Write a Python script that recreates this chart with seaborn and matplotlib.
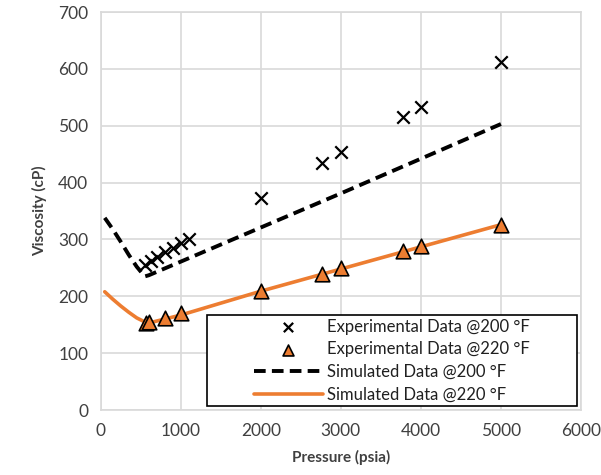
import matplotlib
matplotlib.use('Agg')
import matplotlib.pyplot as plt
import seaborn as sns
import pandas as pd
from matplotlib.patches import Rectangle

# experimental data
exp200_p = [550, 625, 700, 800, 900, 1000, 1100, 2000, 2760, 3000, 3780, 4000, 5000]
exp200_v = [255, 262, 270, 278, 285, 293, 300, 373, 434, 453, 515, 533, 612]
exp220_p = [570, 600, 800, 1000, 2000, 2760, 3000, 3780, 4000, 5000]
exp220_v = [153, 155, 162, 170, 210, 240, 249, 280, 288, 325]

# simulated curves
sim200_p = [50, 150, 250, 350, 450, 550, 600, 1000, 2000, 3000, 4000, 5000]
sim200_v = [338, 318, 296, 273, 252, 235, 237, 261, 321, 381, 442, 503]
sim220_p = [50, 150, 250, 350, 450, 550, 600, 1000, 2000, 3000, 4000, 5000]
sim220_v = [208, 195, 183, 172, 162, 155, 153, 167, 209, 248, 287, 326]

sns.set_style("whitegrid")
plt.rcParams['font.family'] = ['Lato', 'DejaVu Sans']

orange = '#ED7D31'
grid = '#D9D9D9'
txt = '#404040'

fig = plt.figure(figsize=(6.01, 4.75), dpi=100)
ax = fig.add_axes([0.1676, 0.1368, 0.7991, 0.8379])

sns.lineplot(x=sim200_p, y=sim200_v, ax=ax, color='black', lw=2.8,
             linestyle=(0, (3, 1.6)), label='Simulated Data @200 °F', sort=False)
sns.lineplot(x=sim220_p, y=sim220_v, ax=ax, color=orange, lw=2.6,
             label='Simulated Data @220 °F', sort=False)
sns.scatterplot(x=exp200_p, y=exp200_v, ax=ax, marker='x', s=80, color='black',
                linewidth=1.6, label='Experimental Data @200 °F', zorder=5)
sns.scatterplot(x=exp220_p, y=exp220_v, ax=ax, marker='^', s=110, color=orange,
                edgecolor='black', linewidth=1.2, label='Experimental Data @220 °F', zorder=6)

ax.set_xlim(0, 6000)
ax.set_ylim(0, 700)
ax.set_xticks(range(0, 6001, 1000))
ax.set_yticks(range(0, 701, 100))
ax.grid(True, color=grid, lw=1.2)
for s in ax.spines.values():
    s.set_color(grid)
    s.set_linewidth(1.2)
ax.tick_params(length=0, labelsize=12.5, labelcolor=txt, pad=9)
ax.set_xlabel('Pressure (psia)', fontsize=11, fontweight='bold', color=txt, labelpad=8)
ax.set_ylabel('Viscosity (cP)', fontsize=11, fontweight='bold', color=txt, labelpad=8)

h, l = ax.get_legend_handles_labels()
order = [2, 3, 0, 1]
leg = ax.legend([h[i] for i in order], [l[i] for i in order], loc='center',
                bbox_to_anchor=(0.6062, 0.1243), frameon=False, fontsize=12,
                handlelength=4.1, handletextpad=0.25, labelspacing=0.4,
                borderaxespad=0, markerscale=0.75)
for t in leg.get_texts():
    t.set_color('#202020')
ax.add_patch(Rectangle((0.2207, 0.01), 0.771, 0.2287, transform=ax.transAxes,
                       fill=True, facecolor='white', edgecolor='black', lw=1.2,
                       zorder=7, clip_on=False))
leg.set_zorder(8)

fig.savefig('out.png', dpi=100)
